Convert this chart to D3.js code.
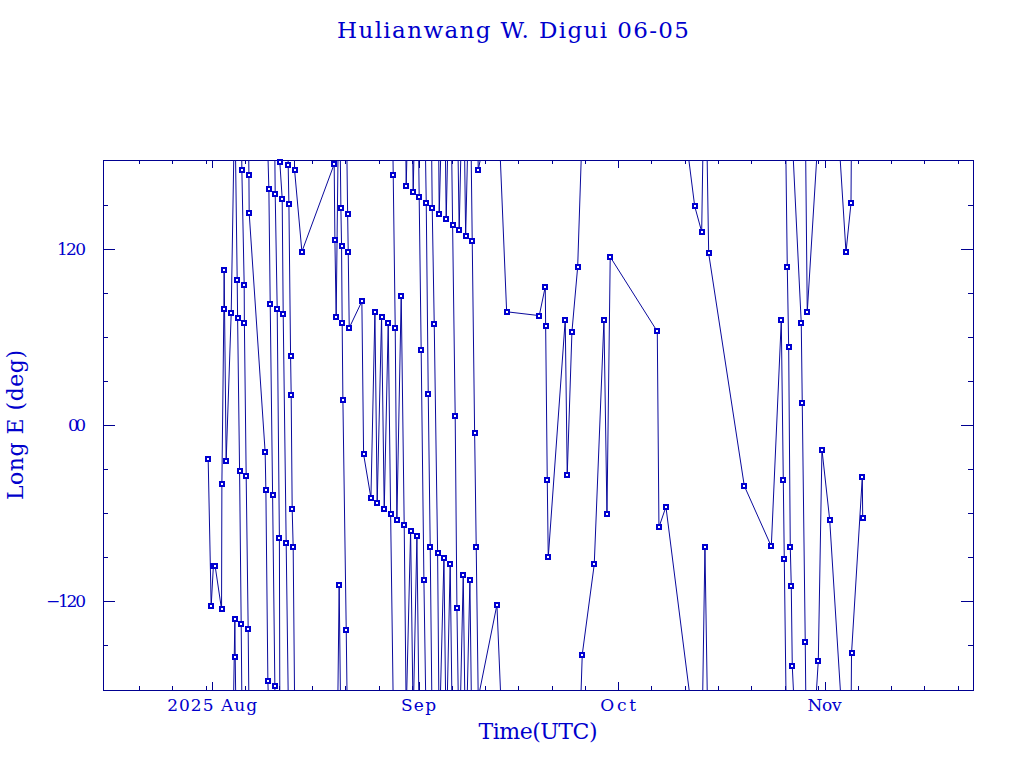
<!DOCTYPE html>
<html><head><meta charset="utf-8">
<script src="https://cdn.jsdelivr.net/npm/d3@7"></script>
<style>body{margin:0;background:#fff}svg{display:block}</style>
</head><body><svg id="c" width="1024" height="768"></svg>
<script>
// ---------------- data ----------------
const chartTitle = "Hulianwang W. Digui 06-05";
const xTitle = "Time(UTC)";
const yTitle = "Long E (deg)";
// observation time, fractional day-of-year 2025 (UTC)
const obsDoy = [
212.40,212.85,213.18,213.45,214.41,214.46,214.76,214.80,215.10,215.86,
216.41,216.46,216.76,216.82,217.12,217.36,217.46,217.81,217.84,218.11,
218.41,218.52,218.56,220.96,221.07,221.37,221.52,221.72,222.08,222.42,
222.47,222.77,223.10,223.16,223.52,223.67,224.12,224.42,224.53,224.78,
224.87,225.02,225.17,225.38,226.48,231.33,231.44,231.63,232.08,232.34,
232.44,232.53,232.64,233.14,233.35,233.44,233.59,235.49,235.75,236.85,
237.45,237.79,238.45,238.85,239.45,239.81,240.20,240.50,240.75,241.40,
241.85,242.15,242.81,243.20,243.76,244.10,244.40,244.81,245.16,245.46,
245.76,246.06,246.36,246.87,247.11,247.82,248.16,248.76,249.12,249.51,
249.77,250.11,250.72,251.08,251.72,252.07,252.43,252.67,252.97,255.78,
257.24,262.14,263.04,263.10,263.34,263.49,266.04,266.34,267.05,267.91,
268.60,270.40,271.86,272.31,272.80,279.87,280.12,281.17,285.49,286.54,
287.03,287.59,292.94,297.00,298.50,298.80,298.95,299.40,299.61,299.85,
300.00,300.15,301.50,301.65,302.10,302.40,304.06,304.61,305.77,308.22,
308.97,309.05,310.67,310.73];
// east longitude (deg), wrapped to [-180,180]
const lonE = [
-23.4,-123.6,-96.3,-96.3,-125.7,-40.3,79.1,105.5,-24.8,76.3,
-132.5,-158.4,98.9,73.3,-31.4,-136.0,174.1,95.8,69.5,-34.9,
-139.3,170.6,144.5,-18.5,-44.3,-174.6,160.7,82.7,-47.8,-178.3,
157.7,79.4,-77.0,179.5,154.4,76.0,-80.5,177.2,150.8,46.9,
20.6,-57.3,-83.4,173.9,118.2,177.9,125.9,73.7,-109.4,147.8,
121.9,69.5,17.3,-139.5,144.0,117.9,66.2,84.3,-19.9,-49.7,
76.8,-53.5,73.7,-57.3,69.5,-60.8,170.4,66.0,-64.8,88.3,
-68.5,162.8,-72.3,158.8,-76.0,155.3,50.9,-105.9,151.3,21.3,
-83.4,147.8,69.2,-87.4,144.0,-90.9,140.3,-94.9,136.5,6.0,
-124.5,133.0,-102.4,129.0,-105.9,125.4,-5.5,-83.4,173.9,-122.6,
77.2,74.6,94.2,67.8,-37.5,-90.2,71.6,-34.0,63.6,107.8,
-156.5,-95.1,71.6,-61.0,114.6,63.8,-69.7,-55.8,149.2,131.8,
-83.4,117.0,-41.5,-82.8,71.4,-37.5,-91.6,107.4,53.0,-82.9,
-109.9,-164.5,69.5,14.9,-148.3,77.0,-160.7,-16.8,-64.5,117.9,
151.1,-155.8,-35.6,-63.1];
const yMajorTicks = [-120, 0, 120];
const yMajorLabels = ["\u2212120", "00", "120"];
const yMinorTicks = [-150, -90, -60, -30, 30, 60, 90, 150];
const xMonthLabels = ["2025 Aug", "Sep", "Oct", "Nov"];
const xMinorDaysOfMonth = [6, 11, 16, 21, 26, 31];
const xDomainDoy = [196.6, 327.3];
const yDomain = [-180.7, 180.7];

// ---------------- drawing ----------------
const TXT = "#0000cc", AX = "#000090", LN = "#0a0a9c", MK = "#0000d0";
const P = {l:103, r:973, t:160, b:690};
const svg = d3.select("#c");
const toDate = d => new Date(Date.UTC(2025,0,1) + (d-1)*864e5);
const x = d3.scaleUtc().domain(xDomainDoy.map(toDate)).range([P.l, P.r]);
const y = d3.scaleLinear().domain(yDomain).range([P.b, P.t]);
const FONT = "DejaVu Serif";

svg.append("defs").append("clipPath").attr("id","clip")
  .append("rect").attr("x",P.l).attr("y",P.t).attr("width",P.r-P.l).attr("height",P.b-P.t);

// axes ticks
const [d0,d1] = x.domain();
const months = d3.utcMonth.range(d0, d1);
const minorDates = d3.utcDay.range(d0, d1)
  .filter(d => xMinorDaysOfMonth.includes(d.getUTCDate()))
  .filter(d => x(d) - P.l > 4 && P.r - x(d) > 4);

function styleAxis(g){
  g.select(".domain").remove();
  g.selectAll("line").attr("stroke",AX).attr("shape-rendering","crispEdges");
  g.selectAll("text").remove();
}
svg.append("g").attr("transform",`translate(0,${P.b})`)
  .call(d3.axisBottom(x).tickValues(minorDates).tickSize(-4).tickFormat("")).call(styleAxis);
svg.append("g").attr("transform",`translate(0,${P.b})`)
  .call(d3.axisBottom(x).tickValues(months).tickSize(-8).tickFormat("")).call(styleAxis);
svg.append("g").attr("transform",`translate(0,${P.t})`)
  .call(d3.axisTop(x).tickValues(minorDates).tickSize(-4).tickFormat("")).call(styleAxis);
svg.append("g").attr("transform",`translate(0,${P.t})`)
  .call(d3.axisTop(x).tickValues(months).tickSize(-8).tickFormat("")).call(styleAxis);
svg.append("g").attr("transform",`translate(${P.l},0)`)
  .call(d3.axisLeft(y).tickValues(yMinorTicks).tickSize(-5).tickFormat("")).call(styleAxis);
svg.append("g").attr("transform",`translate(${P.l},0)`)
  .call(d3.axisLeft(y).tickValues(yMajorTicks).tickSize(-12).tickFormat("")).call(styleAxis);
svg.append("g").attr("transform",`translate(${P.r},0)`)
  .call(d3.axisRight(y).tickValues(yMinorTicks).tickSize(-5).tickFormat("")).call(styleAxis);
svg.append("g").attr("transform",`translate(${P.r},0)`)
  .call(d3.axisRight(y).tickValues(yMajorTicks).tickSize(-12).tickFormat("")).call(styleAxis);

// frame
svg.append("rect").attr("x",P.l+0.5).attr("y",P.t+0.5).attr("width",P.r-P.l).attr("height",P.b-P.t)
  .attr("fill","none").attr("stroke",AX).attr("shape-rendering","crispEdges");

// data: each segment takes the shorter way round, with +-360 copies clipped to the box
const pts = obsDoy.map((d,i)=>({t:toDate(d), v:lonE[i]}));
const line = d3.line().x(p=>x(p.t)).y(p=>y(p.v));
let dstr = "";
for(let i=0;i<pts.length-1;i++){
  const a = pts[i].v; let dv = pts[i+1].v - a;
  if(dv > 180) dv -= 360; if(dv < -180) dv += 360;
  for(const k of [-360,0,360]){
    const v0=a+k, v1=a+dv+k;
    if(Math.max(v0,v1) < yDomain[0] || Math.min(v0,v1) > yDomain[1]) continue;
    dstr += line([{t:pts[i].t,v:v0},{t:pts[i+1].t,v:v1}]);
  }
}
svg.append("path").attr("d",dstr).attr("clip-path","url(#clip)")
  .attr("fill","none").attr("stroke",LN).attr("stroke-width",1);

svg.append("g").selectAll("rect").data(pts).join("rect")
  .attr("x",p=>Math.round(x(p.t))-2).attr("y",p=>Math.round(y(p.v))-2).attr("width",4).attr("height",4)
  .attr("fill","#ffffff").attr("stroke",MK).attr("stroke-width",2)
  .attr("shape-rendering","crispEdges");

// labels
const T = (txt, px, py, size, len, anchor) => svg.append("text").text(txt)
  .attr("x",px).attr("y",py).attr("fill",TXT).attr("font-family",FONT)
  .attr("font-size",size).attr("text-anchor",anchor||"middle")
  .attr("textLength",len).attr("lengthAdjust","spacing");

T(chartTitle, 513, 38, 23, 352);
const mWidths = [90, 35, 36, 34];
months.forEach((m,i)=> T(xMonthLabels[i], x(m), 711, 17, mWidths[i]));
const yW = [40, 18, 29];
yMajorTicks.forEach((v,i)=> T(yMajorLabels[i], 86, y(v)+6, 17, yW[i], "end"));
T(xTitle, 538, 739, 22, 119);
svg.append("text").text(yTitle)
  .attr("transform","translate(23,425) rotate(-90)")
  .attr("fill",TXT).attr("font-family",FONT).attr("font-size",22)
  .attr("text-anchor","middle").attr("textLength",150).attr("lengthAdjust","spacing");
</script></body></html>
